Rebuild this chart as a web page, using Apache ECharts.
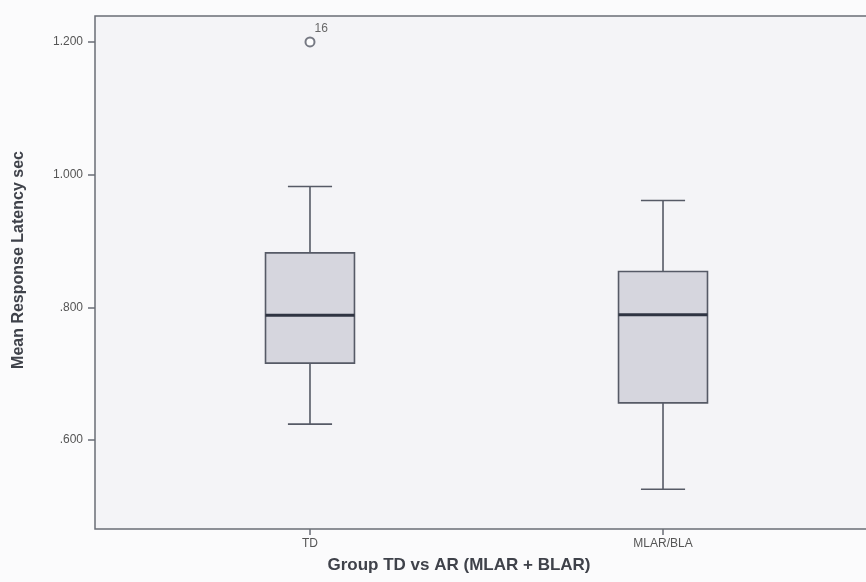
<!DOCTYPE html>
<html>
<head>
<meta charset="utf-8">
<script src="https://cdn.jsdelivr.net/npm/echarts@6/dist/echarts.min.js"></script>
<style>
html,body{margin:0;padding:0;background:#fbfbfc;}
#chart{width:866px;height:582px;}
</style>
</head>
<body>
<div id="chart"></div>
<script>
const categories = ['TD', 'MLAR/BLA'];
const whiskerLow = [0.624, 0.526];
const q1 = [0.716, 0.656];
const median = [0.788, 0.789];
const q3 = [0.882, 0.854];
const whiskerHigh = [0.982, 0.961];
const outlierGroup = [0];
const outlierValue = [1.2];
const outlierLabel = ['16'];
const yTicks = [0.6, 0.8, 1.0, 1.2];
const xTicks = [0, 1];
const xTitle = 'Group TD vs AR (MLAR + BLAR)';
const yTitle = 'Mean Response Latency sec';

const boxData = categories.map((c, i) => [i, whiskerLow[i], q1[i], median[i], q3[i], whiskerHigh[i]]);
const outlierData = outlierGroup.map((g, i) => ({ value: [g, outlierValue[i]], name: outlierLabel[i] }));

const lineColor = '#565a66';
const font = 'Arial, "Liberation Sans", sans-serif';

function renderBox(params, api) {
  const x = api.value(0);
  const pLow = api.coord([x, api.value(1)]);
  const pQ1 = api.coord([x, api.value(2)]);
  const pMed = api.coord([x, api.value(3)]);
  const pQ3 = api.coord([x, api.value(4)]);
  const pHigh = api.coord([x, api.value(5)]);
  const bw = api.size([0.252, 0])[0];
  const cw = api.size([0.125, 0])[0];
  const cx = pMed[0];
  const ls = { stroke: lineColor, lineWidth: 1.6 };
  return {
    type: 'group',
    children: [
      { type: 'line', shape: { x1: cx, y1: pHigh[1], x2: cx, y2: pQ3[1] }, style: ls },
      { type: 'line', shape: { x1: cx, y1: pQ1[1], x2: cx, y2: pLow[1] }, style: ls },
      { type: 'line', shape: { x1: cx - cw / 2, y1: pHigh[1], x2: cx + cw / 2, y2: pHigh[1] }, style: ls },
      { type: 'line', shape: { x1: cx - cw / 2, y1: pLow[1], x2: cx + cw / 2, y2: pLow[1] }, style: ls },
      { type: 'rect', shape: { x: cx - bw / 2, y: pQ3[1], width: bw, height: pQ1[1] - pQ3[1] },
        style: { fill: '#d6d6de', stroke: lineColor, lineWidth: 1.6 } },
      { type: 'line', shape: { x1: cx - bw / 2, y1: pMed[1], x2: cx + bw / 2, y2: pMed[1] },
        style: { stroke: '#2f3442', lineWidth: 3 } }
    ]
  };
}

const chart = echarts.init(document.getElementById('chart'));
chart.setOption({
  backgroundColor: '#fbfbfc',
  animation: false,
  grid: {
    left: 95, top: 16, width: 783, bottom: 53,
    show: true, backgroundColor: '#f4f4f7', borderColor: '#6a6d76', borderWidth: 1.5,
    containLabel: false, outerBoundsMode: 'none'
  },
  graphic: [
    { type: 'text', x: 459, y: 565, silent: true,
      style: { text: xTitle, fill: '#3f424a', font: 'bold 17px ' + font, textAlign: 'center', textVerticalAlign: 'middle' } },
    { type: 'text', x: 19, y: 260, rotation: Math.PI / 2, silent: true,
      style: { text: yTitle, fill: '#3f424a', font: 'bold 16px ' + font, textAlign: 'center', textVerticalAlign: 'middle' } }
  ],
  xAxis: {
    type: 'value', min: -0.609, max: 1.609,
    splitLine: { show: false },
    axisLine: { show: false, onZero: false },
    axisTick: { show: true, customValues: xTicks, length: 6, lineStyle: { color: '#6a6d76', width: 1.5 } },
    axisLabel: {
      customValues: xTicks, formatter: v => categories[Math.round(v)] || '',
      color: '#555', fontSize: 12, fontFamily: font, margin: 9
    }
  },
  yAxis: {
    type: 'value', min: 0.466, max: 1.239,
    splitLine: { show: false },
    axisLine: { show: false, onZero: false },
    axisTick: { show: true, customValues: yTicks, length: 7, lineStyle: { color: '#6a6d76', width: 1.5 } },
    axisLabel: {
      customValues: yTicks,
      formatter: v => { const s = v.toFixed(3); return v < 1 ? s.replace(/^0/, '') : s; },
      color: '#555', fontSize: 12, fontFamily: font, margin: 12
    }
  },
  series: [
    { type: 'custom', renderItem: renderBox, data: boxData, encode: { x: 0, y: [1, 2, 3, 4, 5] }, z: 2 },
    {
      type: 'scatter', data: outlierData, symbol: 'emptyCircle', symbolSize: 9,
      itemStyle: { color: lineColor, borderColor: lineColor, borderWidth: 1.5 },
      label: {
        show: true, formatter: p => p.name, position: [10, -14],
        color: '#444', fontSize: 12, fontFamily: font
      }, z: 3
    }
  ]
});
</script>
</body>
</html>
